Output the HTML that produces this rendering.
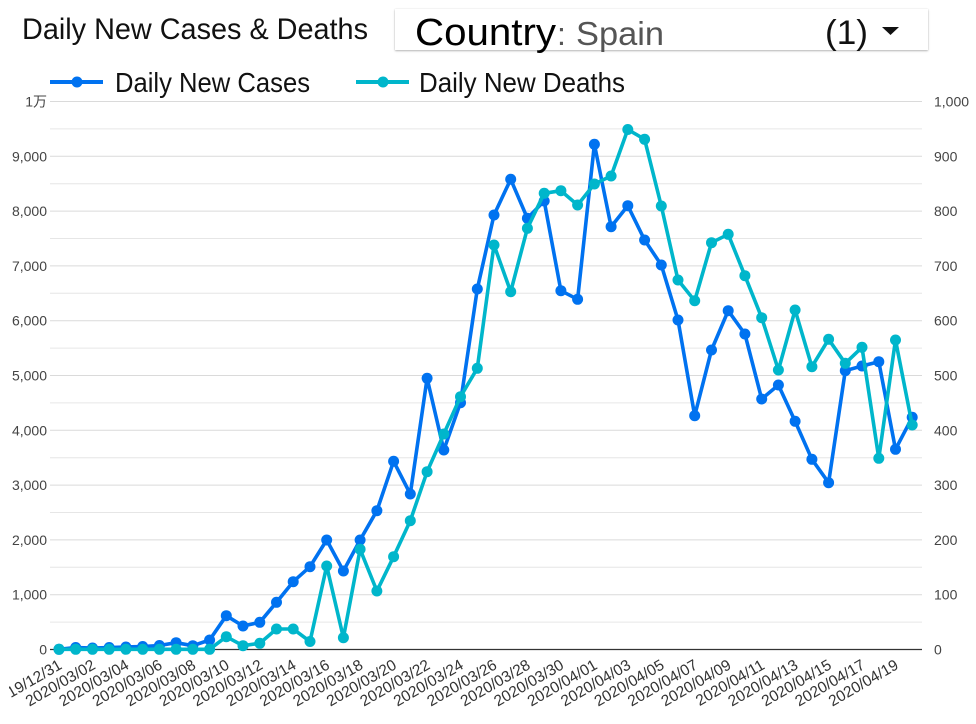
<!DOCTYPE html>
<html>
<head>
<meta charset="utf-8">
<style>
  html, body { margin:0; padding:0; background:#fff; }
  body { width:976px; height:724px; position:relative; overflow:hidden; font-family:"Liberation Sans","Noto Sans CJK SC",sans-serif; }
  #box { position:absolute; left:395px; top:9px; width:533px; height:41px; background:#fff;
         box-shadow: 0 1px 2px rgba(0,0,0,0.28), 0 0 1px rgba(0,0,0,0.12); }
  svg { position:absolute; left:0; top:0; }
</style>
</head>
<body>
<div id="box"></div>
<svg width="976" height="724" viewBox="0 0 976 724" xmlns="http://www.w3.org/2000/svg" font-family="Liberation Sans, Noto Sans CJK SC, sans-serif">
  <defs>
    <clipPath id="lc"><rect x="9" y="640" width="967" height="84"/></clipPath>
  </defs>
  <!-- Title -->
  <text x="22" y="39" font-size="30" fill="#111" textLength="346" lengthAdjust="spacingAndGlyphs">Daily New Cases &amp; Deaths</text>
  <!-- Country selector -->
  <text x="415" y="45" font-size="38" fill="#000" textLength="141" lengthAdjust="spacingAndGlyphs">Country</text>
  <text x="557" y="45" font-size="32" fill="#555">:</text>
  <text x="576" y="45" font-size="33" fill="#555" textLength="88" lengthAdjust="spacingAndGlyphs">Spain</text>
  <text x="825" y="44" font-size="34" fill="#111" textLength="43" lengthAdjust="spacingAndGlyphs">(1)</text>
  <polygon points="882,27 899,27 890.5,35" fill="#111"/>

  <!-- Legend -->
  <line x1="50" y1="82" x2="103" y2="82" stroke="#0072f0" stroke-width="4"/>
  <circle cx="77" cy="82" r="5.5" fill="#0072f0"/>
  <text x="115" y="92" font-size="28" fill="#111" textLength="195" lengthAdjust="spacingAndGlyphs">Daily New Cases</text>
  <line x1="356" y1="82" x2="409" y2="82" stroke="#00b6cb" stroke-width="4"/>
  <circle cx="383" cy="82" r="5.5" fill="#00b6cb"/>
  <text x="419" y="92" font-size="28" fill="#111" textLength="206" lengthAdjust="spacingAndGlyphs">Daily New Deaths</text>

  <!-- Gridlines -->
  <g stroke-width="1">
    <line x1="50" x2="922" y1="101.5" y2="101.5" stroke="#dadada"/>
    <line x1="50" x2="922" y1="128.9" y2="128.9" stroke="#e6e6e6"/>
    <line x1="50" x2="922" y1="156.3" y2="156.3" stroke="#dadada"/>
    <line x1="50" x2="922" y1="183.7" y2="183.7" stroke="#e6e6e6"/>
    <line x1="50" x2="922" y1="211.1" y2="211.1" stroke="#dadada"/>
    <line x1="50" x2="922" y1="238.5" y2="238.5" stroke="#e6e6e6"/>
    <line x1="50" x2="922" y1="265.9" y2="265.9" stroke="#dadada"/>
    <line x1="50" x2="922" y1="293.3" y2="293.3" stroke="#e6e6e6"/>
    <line x1="50" x2="922" y1="320.7" y2="320.7" stroke="#dadada"/>
    <line x1="50" x2="922" y1="348.1" y2="348.1" stroke="#e6e6e6"/>
    <line x1="50" x2="922" y1="375.5" y2="375.5" stroke="#dadada"/>
    <line x1="50" x2="922" y1="402.9" y2="402.9" stroke="#e6e6e6"/>
    <line x1="50" x2="922" y1="430.3" y2="430.3" stroke="#dadada"/>
    <line x1="50" x2="922" y1="457.7" y2="457.7" stroke="#e6e6e6"/>
    <line x1="50" x2="922" y1="485.1" y2="485.1" stroke="#dadada"/>
    <line x1="50" x2="922" y1="512.5" y2="512.5" stroke="#e6e6e6"/>
    <line x1="50" x2="922" y1="539.9" y2="539.9" stroke="#dadada"/>
    <line x1="50" x2="922" y1="567.3" y2="567.3" stroke="#e6e6e6"/>
    <line x1="50" x2="922" y1="594.7" y2="594.7" stroke="#dadada"/>
    <line x1="50" x2="922" y1="622.1" y2="622.1" stroke="#e6e6e6"/>
  </g>
  <line x1="50" x2="922" y1="649.5" y2="649.5" stroke="#333" stroke-width="1.3"/>

  <!-- Left axis labels -->
  <g font-size="14" fill="#444" text-anchor="end">
    <text x="47" y="106.5" font-family="Liberation Sans, Noto Sans CJK JP, sans-serif">1万</text>
    <text x="47" y="161.3">9,000</text>
    <text x="47" y="216.1">8,000</text>
    <text x="47" y="270.9">7,000</text>
    <text x="47" y="325.7">6,000</text>
    <text x="47" y="380.5">5,000</text>
    <text x="47" y="435.3">4,000</text>
    <text x="47" y="490.1">3,000</text>
    <text x="47" y="544.9">2,000</text>
    <text x="47" y="599.7">1,000</text>
    <text x="47" y="654.5">0</text>
  </g>
  <!-- Right axis labels -->
  <g font-size="14" fill="#444" text-anchor="start">
    <text x="934" y="106.5">1,000</text>
    <text x="934" y="161.3">900</text>
    <text x="934" y="216.1">800</text>
    <text x="934" y="270.9">700</text>
    <text x="934" y="325.7">600</text>
    <text x="934" y="380.5">500</text>
    <text x="934" y="435.3">400</text>
    <text x="934" y="490.1">300</text>
    <text x="934" y="544.9">200</text>
    <text x="934" y="599.7">100</text>
    <text x="934" y="654.5">0</text>
  </g>

  <!-- X axis labels -->
  <g font-size="15.5" fill="#333" text-anchor="end" clip-path="url(#lc)">
    <text transform="translate(63,668) rotate(-30)">2019/12/31</text>
    <text transform="translate(96.5,668) rotate(-30)">2020/03/02</text>
    <text transform="translate(130,668) rotate(-30)">2020/03/04</text>
    <text transform="translate(163.4,668) rotate(-30)">2020/03/06</text>
    <text transform="translate(196.8,668) rotate(-30)">2020/03/08</text>
    <text transform="translate(230.3,668) rotate(-30)">2020/03/10</text>
    <text transform="translate(263.8,668) rotate(-30)">2020/03/12</text>
    <text transform="translate(297.2,668) rotate(-30)">2020/03/14</text>
    <text transform="translate(330.7,668) rotate(-30)">2020/03/16</text>
    <text transform="translate(364.1,668) rotate(-30)">2020/03/18</text>
    <text transform="translate(397.6,668) rotate(-30)">2020/03/20</text>
    <text transform="translate(431.1,668) rotate(-30)">2020/03/22</text>
    <text transform="translate(464.5,668) rotate(-30)">2020/03/24</text>
    <text transform="translate(498,668) rotate(-30)">2020/03/26</text>
    <text transform="translate(531.4,668) rotate(-30)">2020/03/28</text>
    <text transform="translate(564.9,668) rotate(-30)">2020/03/30</text>
    <text transform="translate(598.4,668) rotate(-30)">2020/04/01</text>
    <text transform="translate(631.8,668) rotate(-30)">2020/04/03</text>
    <text transform="translate(665.3,668) rotate(-30)">2020/04/05</text>
    <text transform="translate(698.7,668) rotate(-30)">2020/04/07</text>
    <text transform="translate(732.2,668) rotate(-30)">2020/04/09</text>
    <text transform="translate(765.7,668) rotate(-30)">2020/04/11</text>
    <text transform="translate(799.1,668) rotate(-30)">2020/04/13</text>
    <text transform="translate(832.6,668) rotate(-30)">2020/04/15</text>
    <text transform="translate(866,668) rotate(-30)">2020/04/17</text>
    <text transform="translate(899.5,668) rotate(-30)">2020/04/19</text>
  </g>

  <!-- Cases series -->
  <g id="cases">
    <polyline fill="none" stroke="#0072f0" stroke-width="3.6" stroke-linejoin="round"
      points="59,649.3 75.7,647.5 92.5,648 109.2,647.5 125.9,647 142.7,646.5 159.4,645.5 176.1,642.7 192.8,645.7 209.6,640 226.3,615.7 243,626 259.8,622.3 276.5,602.3 293.2,581.7 310,566.7 326.7,540 343.4,571 360.1,540 376.9,510.7 393.6,461.3 410.3,494 427.1,378.3 443.8,450 460.5,402.7 477.3,289 494,215 510.7,179.3 527.4,218.3 544.2,201 560.9,290.7 577.6,299.3 594.4,144.3 611.1,226.7 627.8,205.7 644.6,240 661.3,265 678,320 694.7,415.7 711.5,350 728.2,310.7 744.9,334 761.7,399 778.4,385 795.1,421.3 811.9,459.3 828.6,482.7 845.3,370.7 862,366 878.8,361.7 895.5,449.3 912.2,417.3"/>
    <g fill="#0072f0">
      <circle cx="59" cy="649.3" r="5.5"/><circle cx="75.7" cy="647.5" r="5.5"/><circle cx="92.5" cy="648" r="5.5"/><circle cx="109.2" cy="647.5" r="5.5"/><circle cx="125.9" cy="647" r="5.5"/><circle cx="142.7" cy="646.5" r="5.5"/><circle cx="159.4" cy="645.5" r="5.5"/><circle cx="176.1" cy="642.7" r="5.5"/><circle cx="192.8" cy="645.7" r="5.5"/><circle cx="209.6" cy="640" r="5.5"/><circle cx="226.3" cy="615.7" r="5.5"/><circle cx="243" cy="626" r="5.5"/><circle cx="259.8" cy="622.3" r="5.5"/><circle cx="276.5" cy="602.3" r="5.5"/><circle cx="293.2" cy="581.7" r="5.5"/><circle cx="310" cy="566.7" r="5.5"/><circle cx="326.7" cy="540" r="5.5"/><circle cx="343.4" cy="571" r="5.5"/><circle cx="360.1" cy="540" r="5.5"/><circle cx="376.9" cy="510.7" r="5.5"/><circle cx="393.6" cy="461.3" r="5.5"/><circle cx="410.3" cy="494" r="5.5"/><circle cx="427.1" cy="378.3" r="5.5"/><circle cx="443.8" cy="450" r="5.5"/><circle cx="460.5" cy="402.7" r="5.5"/><circle cx="477.3" cy="289" r="5.5"/><circle cx="494" cy="215" r="5.5"/><circle cx="510.7" cy="179.3" r="5.5"/><circle cx="527.4" cy="218.3" r="5.5"/><circle cx="544.2" cy="201" r="5.5"/><circle cx="560.9" cy="290.7" r="5.5"/><circle cx="577.6" cy="299.3" r="5.5"/><circle cx="594.4" cy="144.3" r="5.5"/><circle cx="611.1" cy="226.7" r="5.5"/><circle cx="627.8" cy="205.7" r="5.5"/><circle cx="644.6" cy="240" r="5.5"/><circle cx="661.3" cy="265" r="5.5"/><circle cx="678" cy="320" r="5.5"/><circle cx="694.7" cy="415.7" r="5.5"/><circle cx="711.5" cy="350" r="5.5"/><circle cx="728.2" cy="310.7" r="5.5"/><circle cx="744.9" cy="334" r="5.5"/><circle cx="761.7" cy="399" r="5.5"/><circle cx="778.4" cy="385" r="5.5"/><circle cx="795.1" cy="421.3" r="5.5"/><circle cx="811.9" cy="459.3" r="5.5"/><circle cx="828.6" cy="482.7" r="5.5"/><circle cx="845.3" cy="370.7" r="5.5"/><circle cx="862" cy="366" r="5.5"/><circle cx="878.8" cy="361.7" r="5.5"/><circle cx="895.5" cy="449.3" r="5.5"/><circle cx="912.2" cy="417.3" r="5.5"/>
    </g>
  </g>

  <!-- Deaths series -->
  <g id="deaths">
    <polyline fill="none" stroke="#00b6cb" stroke-width="3.6" stroke-linejoin="round"
      points="59,649.3 75.7,649.3 92.5,649.3 109.2,649.3 125.9,649.3 142.7,649.3 159.4,649.3 176.1,649.3 192.8,649.3 209.6,649.3 226.3,636.7 243,645.7 259.8,643.3 276.5,629 293.2,629 310,641.5 326.7,566 343.4,637.7 360.1,549.3 376.9,591 393.6,556.7 410.3,520.7 427.1,471.7 443.8,434 460.5,396.7 477.3,368.3 494,245 510.7,291.7 527.4,228.3 544.2,193.3 560.9,190.7 577.6,205 594.4,184 611.1,176 627.8,129.5 644.6,139.3 661.3,206 678,280 694.7,300.7 711.5,242.7 728.2,234.3 744.9,275.7 761.7,317.7 778.4,370 795.1,310 811.9,366.7 828.6,339.3 845.3,363.3 862,347.3 878.8,458.3 895.5,340 912.2,425"/>
    <g fill="#00b6cb">
      <circle cx="59" cy="649.3" r="5.5"/><circle cx="75.7" cy="649.3" r="5.5"/><circle cx="92.5" cy="649.3" r="5.5"/><circle cx="109.2" cy="649.3" r="5.5"/><circle cx="125.9" cy="649.3" r="5.5"/><circle cx="142.7" cy="649.3" r="5.5"/><circle cx="159.4" cy="649.3" r="5.5"/><circle cx="176.1" cy="649.3" r="5.5"/><circle cx="192.8" cy="649.3" r="5.5"/><circle cx="209.6" cy="649.3" r="5.5"/><circle cx="226.3" cy="636.7" r="5.5"/><circle cx="243" cy="645.7" r="5.5"/><circle cx="259.8" cy="643.3" r="5.5"/><circle cx="276.5" cy="629" r="5.5"/><circle cx="293.2" cy="629" r="5.5"/><circle cx="310" cy="641.5" r="5.5"/><circle cx="326.7" cy="566" r="5.5"/><circle cx="343.4" cy="637.7" r="5.5"/><circle cx="360.1" cy="549.3" r="5.5"/><circle cx="376.9" cy="591" r="5.5"/><circle cx="393.6" cy="556.7" r="5.5"/><circle cx="410.3" cy="520.7" r="5.5"/><circle cx="427.1" cy="471.7" r="5.5"/><circle cx="443.8" cy="434" r="5.5"/><circle cx="460.5" cy="396.7" r="5.5"/><circle cx="477.3" cy="368.3" r="5.5"/><circle cx="494" cy="245" r="5.5"/><circle cx="510.7" cy="291.7" r="5.5"/><circle cx="527.4" cy="228.3" r="5.5"/><circle cx="544.2" cy="193.3" r="5.5"/><circle cx="560.9" cy="190.7" r="5.5"/><circle cx="577.6" cy="205" r="5.5"/><circle cx="594.4" cy="184" r="5.5"/><circle cx="611.1" cy="176" r="5.5"/><circle cx="627.8" cy="129.5" r="5.5"/><circle cx="644.6" cy="139.3" r="5.5"/><circle cx="661.3" cy="206" r="5.5"/><circle cx="678" cy="280" r="5.5"/><circle cx="694.7" cy="300.7" r="5.5"/><circle cx="711.5" cy="242.7" r="5.5"/><circle cx="728.2" cy="234.3" r="5.5"/><circle cx="744.9" cy="275.7" r="5.5"/><circle cx="761.7" cy="317.7" r="5.5"/><circle cx="778.4" cy="370" r="5.5"/><circle cx="795.1" cy="310" r="5.5"/><circle cx="811.9" cy="366.7" r="5.5"/><circle cx="828.6" cy="339.3" r="5.5"/><circle cx="845.3" cy="363.3" r="5.5"/><circle cx="862" cy="347.3" r="5.5"/><circle cx="878.8" cy="458.3" r="5.5"/><circle cx="895.5" cy="340" r="5.5"/><circle cx="912.2" cy="425" r="5.5"/>
    </g>
  </g>
</svg>
</body>
</html>
